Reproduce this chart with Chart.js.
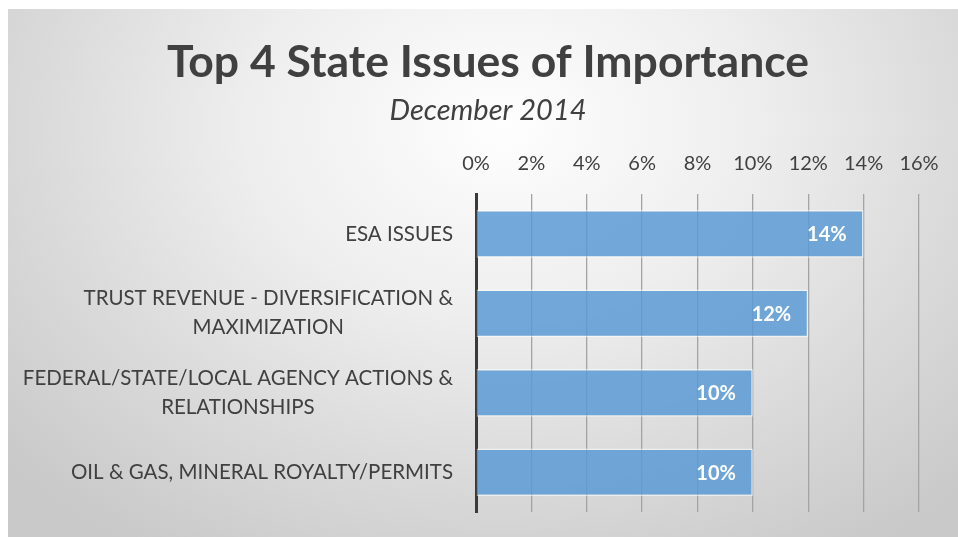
<!DOCTYPE html>
<html>
<head>
<meta charset="utf-8">
<script src="https://cdn.jsdelivr.net/npm/chart.js@4.4.1/dist/chart.umd.min.js"></script>
<style>
  html,body{margin:0;padding:0;background:#fff;}
  body{width:958px;height:537px;position:relative;overflow:hidden;}
  .panel{position:absolute;left:8px;top:9px;right:0;bottom:0;
    background:radial-gradient(ellipse 70% 95% at 52% 22%, #fefefe 0%, #eeeeee 38%, #dadada 70%, #c9c9c9 100%);}
  #c{position:absolute;left:0;top:0;}
</style>
</head>
<body>
<div class="panel"></div>
<canvas id="c" width="958" height="537"></canvas>
<script>
  const TITLE = 'Top 4 State Issues of Importance';
  const SUBTITLE = 'December 2014';
  // each category split into the lines shown on the axis
  const CATEGORIES = [
    ['ESA ISSUES'],
    ['TRUST REVENUE - DIVERSIFICATION &', 'MAXIMIZATION'],
    ['FEDERAL/STATE/LOCAL AGENCY ACTIONS &', 'RELATIONSHIPS'],
    ['OIL & GAS, MINERAL ROYALTY/PERMITS']
  ];
  const SHARES = [0.14, 0.12, 0.10, 0.10];
  const TICK_LABELS = ['0%','2%','4%','6%','8%','10%','12%','14%','16%'];

  const INK = '#404040', FONT = 'Lato';

  /* ---- category labels: block right-aligned, lines centred ---- */
  const catLabels = {
    id:'catLabels',
    afterDraw(chart){
      const s = chart.scales.y, ctx = chart.ctx;
      ctx.save();
      ctx.font = '20.5px ' + FONT;
      ctx.fillStyle = INK;
      ctx.textAlign = 'center';
      ctx.textBaseline = 'middle';
      const right = s.right - 23, lh = 29;
      CATEGORIES.forEach((lines, i) => {
        const w = Math.max(...lines.map(l => ctx.measureText(l).width));
        const cx = right - w / 2;
        const y0 = s.getPixelForTick(i) - (lines.length - 1) * lh / 2;
        lines.forEach((l, k) => ctx.fillText(l, cx, y0 + k * lh));
      });
      ctx.restore();
    }
  };

  /* ---- value labels inside bar ends ---- */
  const valueLabels = {
    id:'valueLabels',
    afterDatasetsDraw(chart){
      const ctx = chart.ctx, meta = chart.getDatasetMeta(0);
      ctx.save();
      ctx.font = 'bold 20px ' + FONT;
      ctx.fillStyle = '#ffffff';
      ctx.textAlign = 'right';
      ctx.textBaseline = 'middle';
      meta.data.forEach((bar, i) => {
        ctx.fillText(Math.round(SHARES[i] * 100) + '%', bar.x - 17, bar.y + 1);
      });
      ctx.restore();
    }
  };

  new Chart(document.getElementById('c'), {
    type:'bar',
    data:{
      labels: CATEGORIES,
      datasets:[{
        data: SHARES,
        backgroundColor:'rgba(91,155,213,0.85)',
        borderColor:'rgba(255,255,255,0.55)',
        borderWidth:1.5,
        barPercentage:0.6,
        categoryPercentage:1
      }]
    },
    options:{
      indexAxis:'y',
      responsive:false,
      animation:false,
      // left padding keeps the title centred where the original has it
      layout:{padding:{left:57, right:39, top:0, bottom:25}},
      plugins:{
        legend:{display:false},
        tooltip:{enabled:false},
        title:{display:true, text:TITLE, color:INK,
          font:{family:FONT, size:44.5, weight:'bold'}, padding:{top:36, bottom:0}},
        subtitle:{display:true, text:SUBTITLE, color:INK,
          font:{family:FONT, size:29, style:'italic'}, padding:{top:4, bottom:4}}
      },
      scales:{
        x:{
          position:'top', min:0, max:0.16,
          ticks:{stepSize:0.02, padding:19, color:INK, font:{family:FONT, size:20},
            callback:(v, i) => TICK_LABELS[i]},
          grid:{color:'#a3a3a3', lineWidth:1.3, drawTicks:false},
          border:{display:false}
        },
        y:{
          z:1,
          ticks:{display:false},
          grid:{display:false},
          border:{display:true, color:'#3a3a3a', width:3},
          afterFit(s){ s.width = 476 - 57; }
        }
      }
    },
    plugins:[valueLabels, catLabels]
  });
</script>
</body>
</html>
